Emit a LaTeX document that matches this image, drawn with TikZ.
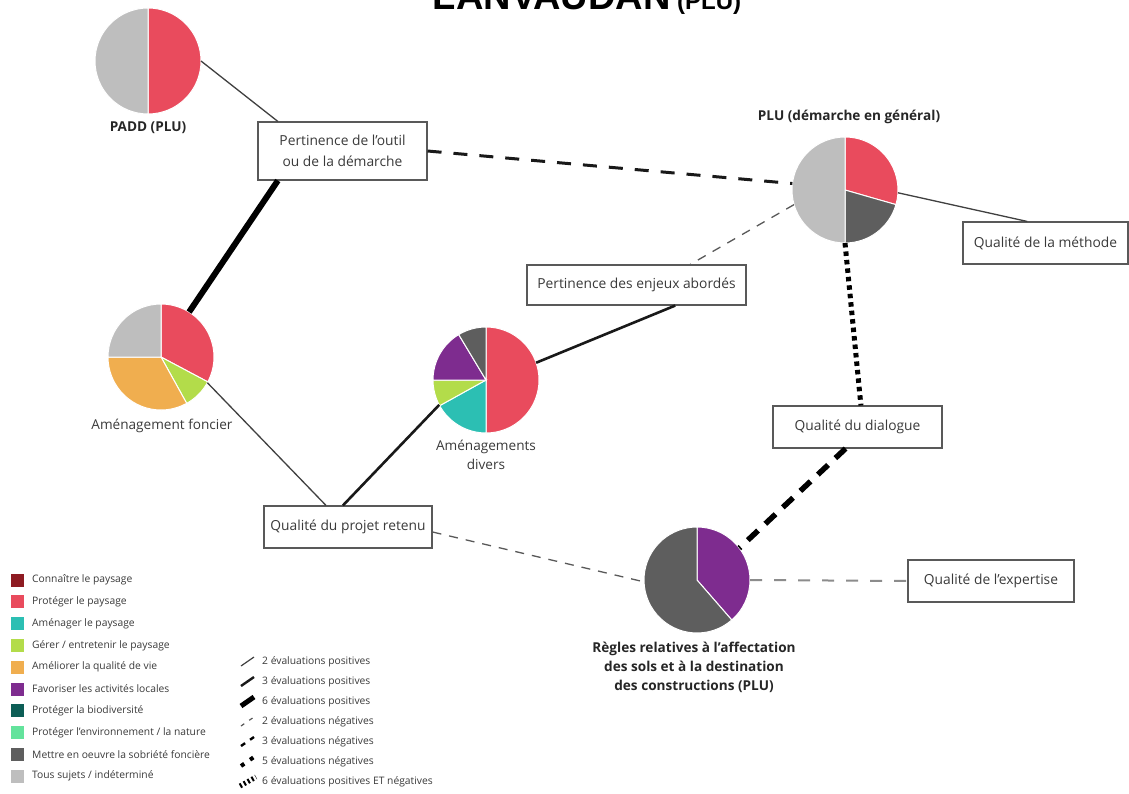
\documentclass[tikz,border=0pt]{standalone}
\usepackage{fontspec}
\setmainfont{Open Sans}
\newfontfamily\titlefont{Liberation Sans}
\usetikzlibrary{calc}
\definecolor{cConn}{HTML}{8E1B22}
\definecolor{cProt}{HTML}{E94B5D}
\definecolor{cAmen}{HTML}{2CBFB3}
\definecolor{cGere}{HTML}{B3DC4A}
\definecolor{cAmel}{HTML}{F0AE4F}
\definecolor{cFav}{HTML}{7E2C8F}
\definecolor{cBio}{HTML}{0D5E56}
\definecolor{cEnv}{HTML}{63E39C}
\definecolor{cSob}{HTML}{5E5E5E}
\definecolor{cTous}{HTML}{BEBEBE}
\definecolor{txt}{HTML}{3A3A3A}
\newcommand\pslice[4]{\fill[#1,draw=white,line width=1pt] (#2) -- ++(#3:53pt) arc[start angle=#3,end angle=#4,radius=53pt] -- cycle;}
\tikzset{
  pie/.style={circle,minimum size=106pt,inner sep=0pt,outer sep=0pt},
  box/.style={draw=black!65,line width=1.1pt,fill=white,text=txt,font=\fontsize{13.8}{21}\selectfont,align=center,inner sep=0pt,minimum height=42pt},
  plab/.style={font=\bfseries\fontsize{13.6}{19}\selectfont,text=black!85,align=center},
  nlab/.style={font=\fontsize{13.6}{18.5}\selectfont,text=txt,align=center},
  leg/.style={font=\fontsize{10.3}{11}\selectfont,text=txt,anchor=west,inner sep=0pt},
  sq/.style={minimum size=13pt,inner sep=0pt},
  posA/.style={line width=1.3pt,draw=black!75},
  posB/.style={line width=2.6pt,draw=black!90},
  posC/.style={line width=6pt,draw=black},
  negA/.style={line width=1.3pt,draw=black!65,dash pattern=on 9pt off 8pt},
  negB/.style={line width=3pt,draw=black!90,dash pattern=on 14pt off 12pt},
  negC/.style={line width=5.5pt,draw=black,dash pattern=on 14pt off 10pt},
  mixC/.style={line width=5pt,draw=black,dash pattern=on 4.5pt off 4pt},
}
\begin{document}
\begin{tikzpicture}[x=1pt,y=-1pt]
\useasboundingbox[fill=white] (0,0) rectangle (1129,794);
% title
\node[anchor=base,inner sep=0pt] (title) at (587,10) {\titlefont\bfseries\fontsize{38}{40}\selectfont LANVAUDAN\,{\fontsize{24}{26}\selectfont (PLU)}};
% pies
\node[pie] (padd) at (148,61) {};
\pslice{cProt}{padd.center}{90}{-90}
\pslice{cTous}{padd.center}{90}{270}
\node[plab] (paddl) at (148,128) {PADD (PLU)};

\node[pie] (plu) at (845,190) {};
\pslice{cProt}{plu.center}{90}{-16}
\pslice{cSob}{plu.center}{-16}{-90}
\pslice{cTous}{plu.center}{-90}{-270}
\node[plab] (plul) at (849,117) {PLU (démarche en général)};

\node[pie] (fonc) at (161,357) {};
\pslice{cProt}{fonc.center}{90}{-28}
\pslice{cGere}{fonc.center}{-28}{-61}
\pslice{cAmel}{fonc.center}{-61}{-180}
\pslice{cTous}{fonc.center}{180}{90}
\node[nlab] (foncl) at (162,426) {Aménagement foncier};

\node[pie] (div) at (486,380) {};
\pslice{cProt}{div.center}{90}{-90}
\pslice{cAmen}{div.center}{-90}{-151}
\pslice{cGere}{div.center}{-151}{-180}
\pslice{cFav}{div.center}{180}{121}
\pslice{cSob}{div.center}{121}{90}
\node[nlab] (divl) at (486,455) {Aménagements\\divers};

\node[pie] (reg) at (697,580) {};
\pslice{cFav}{reg.center}{90}{-49}
\pslice{cSob}{reg.center}{-49}{-270}
\node[plab] (regl) at (694,667) {Règles relatives à l’affectation\\des sols et à la destination\\des constructions (PLU)};

% boxes
\node[box,minimum width=169pt,minimum height=58pt] (outil) at (342.5,151) {Pertinence de l’outil\\ou de la démarche};
\node[box,minimum width=165pt] (meth) at (1045.5,243) {Qualité de la méthode};
\node[box,minimum width=219pt,minimum height=40pt] (enj) at (636.5,285) {Pertinence des enjeux abordés};
\node[box,minimum width=169pt] (dial) at (857.5,427) {Qualité du dialogue};
\node[box,minimum width=168pt] (proj) at (348,527) {Qualité du projet retenu};
\node[box,minimum width=166pt] (expe) at (991,581) {Qualité de l’expertise};

% connectors
\draw[posA] (padd.0) -- ($(outil.north west)!0.12!(outil.north east)$);
\draw[posC] ($(outil.south west)!0.12!(outil.south east)$) -- (fonc.58);
\draw[negB] (outil.east) -- (plu.173);
\draw[posA] (plu.-3) -- ($(meth.north west)!0.39!(meth.north east)$);
\draw[negA] (plu.196) -- ($(enj.north west)!0.744!(enj.north east)$);
\draw[posB] ($(enj.south west)!0.676!(enj.south east)$) -- (div.19);
\draw[posB] (div.208) -- ($(proj.north west)!0.47!(proj.north east)$);
\draw[posA] (fonc.-29) -- ($(proj.north west)!0.37!(proj.north east)$);
\draw[mixC] (plu.-90) -- ($(dial.north west)!0.52!(dial.north east)$);
\draw[negC] ($(dial.south west)!0.43!(dial.south east)$) -- (reg.37);
\draw[negA] ($(proj.east)+(0,5)$) -- (reg.182);
\draw[negA,draw=black!45,line width=2pt,dash pattern=on 12pt off 12pt] (reg.0) -- (expe.west);

% legend colours
\foreach \c/\t [count=\i from 0] in {cConn/{Connaître le paysage},cProt/{Protéger le paysage},cAmen/{Aménager le paysage},cGere/{Gérer / entretenir le paysage},cAmel/{Améliorer la qualité de vie},cFav/{Favoriser les activités locales},cBio/{Protéger la biodiversité},cEnv/{Protéger l’environnement / la nature},cSob/{Mettre en oeuvre la sobriété foncière},cTous/{Tous sujets / indéterminé}}{
  \node[sq,fill=\c] (sq\i) at (17,{580+21.8*\i}) {};
  \node[leg] (lt\i) at (32,{580+21.8*\i}) {\t};
}
% legend lines
\draw[posA,line width=1.2pt] (241,666) -- (254,657);
\node[leg] (l1) at (262,662) {2 évaluations positives};
\draw[posB,line width=2.4pt] (241,686) -- (254,677);
\node[leg] (l2) at (262,682) {3 évaluations positives};
\draw[posC,line width=5pt] (241,706) -- (254,697);
\node[leg] (l3) at (262,702) {6 évaluations positives};
\draw[line width=1.2pt,black!65,dash pattern=on 4pt off 6pt] (241,726) -- (254,717);
\node[leg] (l4) at (262,722) {2 évaluations négatives};
\draw[line width=2.4pt,black,dash pattern=on 5pt off 6pt] (241,746) -- (254,737);
\node[leg] (l5) at (262,742) {3 évaluations négatives};
\draw[line width=4pt,black,dash pattern=on 4pt off 7pt] (241,766) -- (254,757);
\node[leg] (l6) at (262,762) {5 évaluations négatives};
\draw[line width=5pt,black,dash pattern=on 2pt off 2.5pt] (240,786) -- (256,777);
\node[leg] (l7) at (262,782) {6 évaluations positives ET négatives};
\end{tikzpicture}
\end{document}
